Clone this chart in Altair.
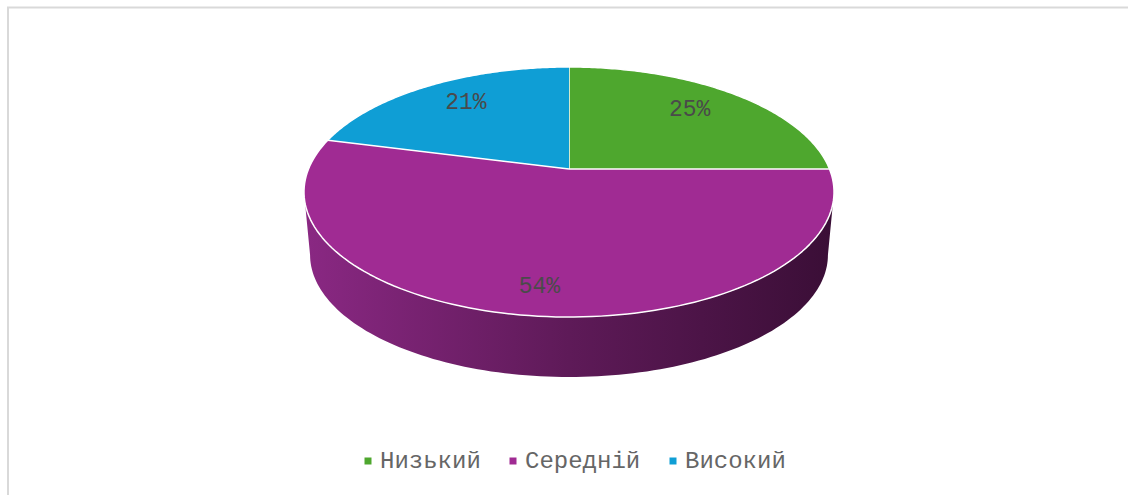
import altair as alt
import pandas as pd

# ---- data ----
categories = ["Низький", "Середній", "Високий"]
values = [25, 54, 21]
colors = ["#4EA72E", "#A02B93", "#0F9ED5"]

df = pd.DataFrame({"idx": list(range(len(categories))), "cat": categories, "value": values})

# ---- layout / 3D-look constants (style, not data) ----
W, H = 1128, 495
CX, CY = 569, 169          # centre of the pie top (screen px)
RX, RY = 260.5, 120.8      # radii of the pie top
K = 0.184                  # perspective factor
D, C = 63.4, 0.977         # drop and shrink of the pie bottom rim
N = 120                    # arc resolution
LFX, LFY = 0.74, 0.8       # label radius factors

xs = alt.X("x:Q", scale=alt.Scale(domain=[0, W], nice=False, zero=False), axis=None)
ys = alt.Y("y:Q", scale=alt.Scale(domain=[0, H], nice=False, zero=False, reverse=True), axis=None)

prep = (
    alt.Chart(df)
    .transform_window(cum="sum(value)", sort=[alt.SortField("idx")], frame=[None, 0])
    .transform_joinaggregate(total="sum(value)")
    .transform_calculate(
        a0="2*PI*(datum.cum-datum.value)/datum.total",
        a1="2*PI*datum.cum/datum.total",
    )
)

persp = f"1/(1+{K}*datum.v)"

# side wall (front half of the cylinder)
side = (
    prep.transform_calculate(th=f"acos(-{K})")
    .transform_calculate(sa0="max(datum.a0, datum.th)", sa1="min(datum.a1, 2*PI-datum.th)")
    .transform_filter("datum.sa1 > datum.sa0")
    .transform_calculate(pts=f"sequence(0,{2 * N + 2})")
    .transform_flatten(["pts"], as_=["pt"])
    .transform_calculate(
        bot=f"datum.pt>{N}",
        f=f"datum.pt<={N} ? datum.pt/{N} : 1-(datum.pt-{N}-1)/{N}",
    )
    .transform_calculate(t="datum.sa0+(datum.sa1-datum.sa0)*datum.f")
    .transform_calculate(u="sin(datum.t)", v="cos(datum.t)")
    .transform_calculate(s=persp)
    .transform_calculate(
        x=f"{CX}+{RX}*(datum.bot?{C}:1)*datum.u*datum.s",
        y=f"{CY}+(datum.bot?{D}:0)-{RY}*(datum.bot?{C}:1)*datum.v*datum.s",
    )
    .mark_line(
        filled=True,
        fill=alt.LinearGradient(
            gradient="linear",
            stops=[
                alt.GradientStop(color="#8a2883", offset=0),
                alt.GradientStop(color="#5e1a58", offset=0.5),
                alt.GradientStop(color="#3a0e36", offset=1),
            ],
            x1=0, x2=1, y1=0, y2=0,
        ),
    )
    .encode(x=xs, y=ys, order="pt:Q", detail="cat:N")
)

# top face slices
top = (
    prep.transform_calculate(pts=f"sequence(0,{N + 2})")
    .transform_flatten(["pts"], as_=["pt"])
    .transform_calculate(t=f"datum.a0+(datum.a1-datum.a0)*max(datum.pt-1,0)/{N}")
    .transform_calculate(u="datum.pt==0?0:sin(datum.t)", v="datum.pt==0?0:cos(datum.t)")
    .transform_calculate(s=persp)
    .transform_calculate(x=f"{CX}+{RX}*datum.u*datum.s", y=f"{CY}-{RY}*datum.v*datum.s")
    .mark_line(filled=True, stroke="white", strokeWidth=1.5, strokeJoin="round")
    .encode(
        x=xs,
        y=ys,
        order="pt:Q",
        color=alt.Color(
            "cat:N",
            sort=categories,
            scale=alt.Scale(domain=categories, range=colors),
            legend=alt.Legend(
                orient="none",
                legendX=356,
                legendY=449,
                direction="horizontal",
                title=None,
                symbolType="square",
                symbolSize=49,
                symbolStrokeWidth=0,
                labelFont="Liberation Mono",
                labelFontSize=24,
                labelColor="#666666",
                labelOffset=0,
                columnPadding=20,
                padding=0,
            ),
        ),
    )
)

labels = (
    prep.transform_calculate(m="(datum.a0+datum.a1)/2")
    .transform_calculate(u="sin(datum.m)", v="cos(datum.m)")
    .transform_calculate(s=persp)
    .transform_calculate(
        x=f"{CX}+{RX}*{LFX}*datum.u*datum.s",
        y=f"{CY}-{RY}*{LFY}*datum.v*datum.s",
        lbl="format(datum.value/datum.total,'.0%')",
    )
    .mark_text(font="Liberation Mono", fontSize=23, color="#4a4a4a", baseline="middle", align="center")
    .encode(x=xs, y=ys, text="lbl:N")
)

frame = (
    alt.Chart(pd.DataFrame({"k": [0]}))
    .mark_rect(fillOpacity=0, stroke="#d9d9d9", strokeWidth=2)
    .encode(x=alt.value(8), x2=alt.value(1160), y=alt.value(7.5), y2=alt.value(530))
)

chart = (
    alt.layer(frame, side, top, labels)
    .properties(width=W, height=H, padding=0, autosize="none")
    .configure_view(stroke=None)
)

chart.save("out.html", embed_options={"renderer": "svg", "actions": False})
